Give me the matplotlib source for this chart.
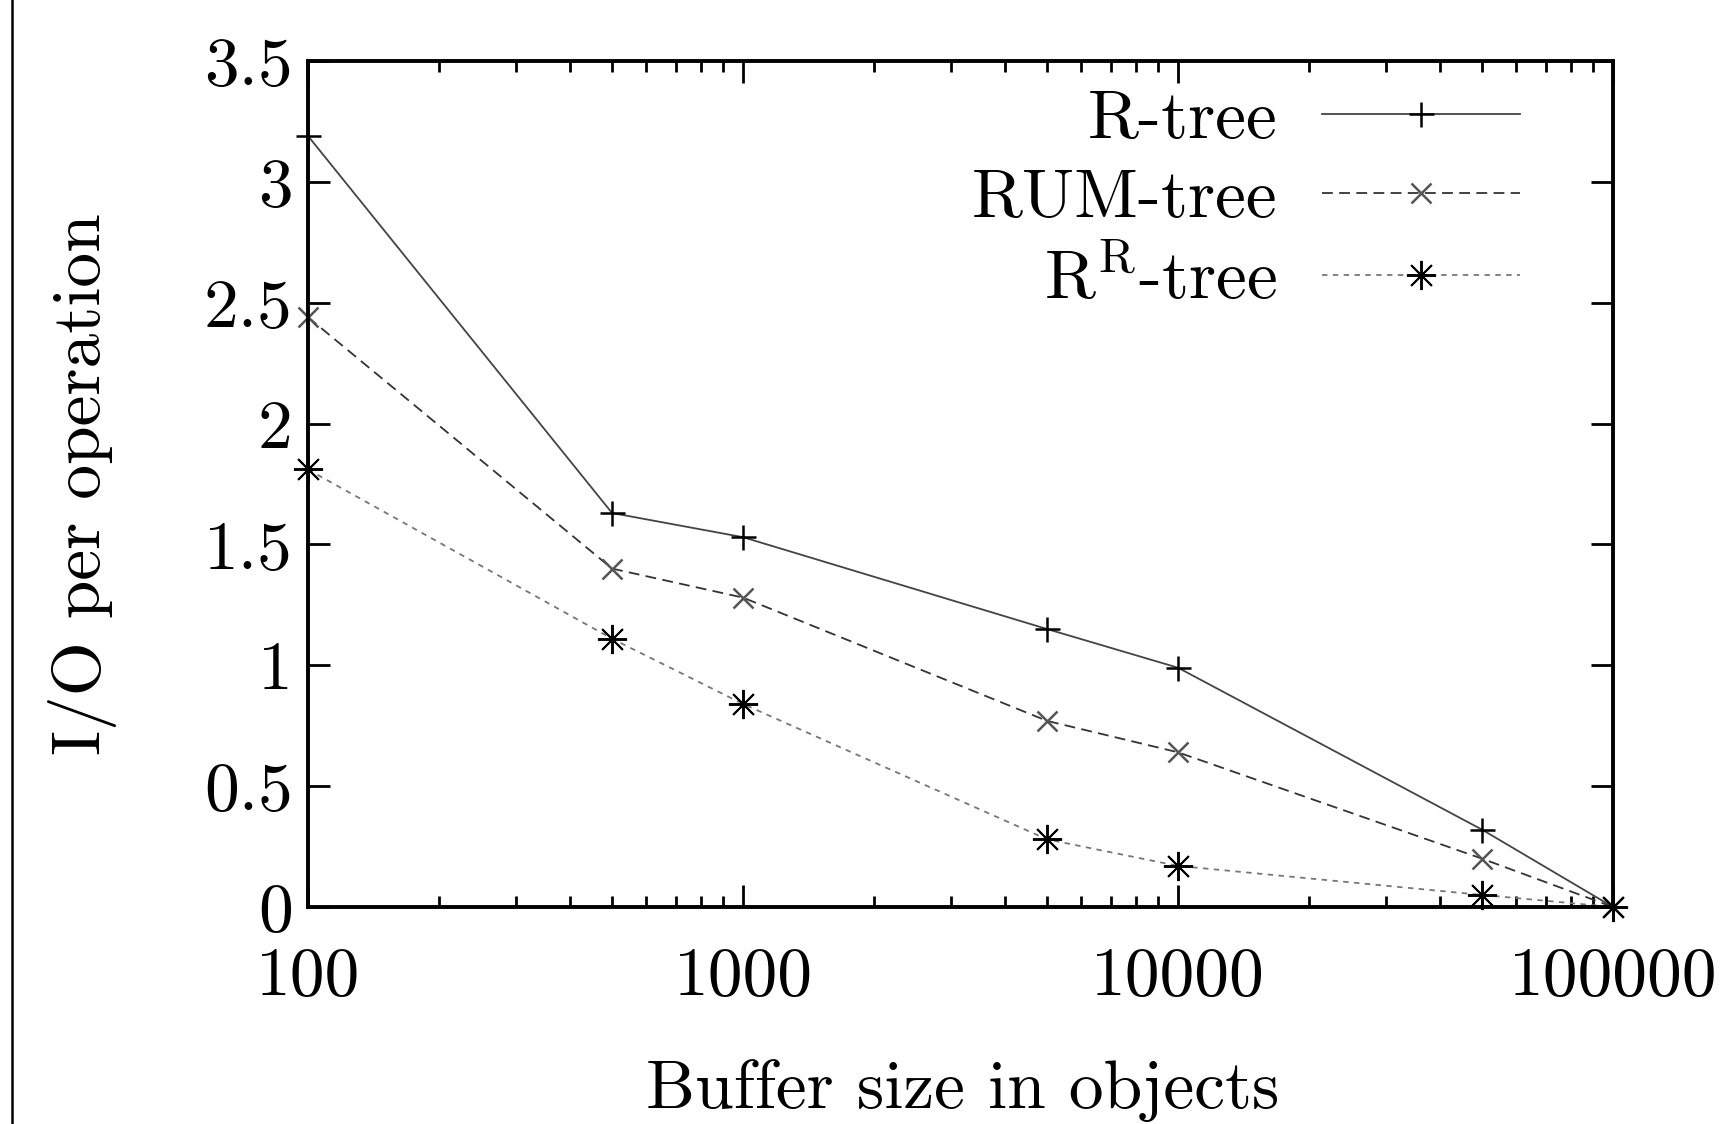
import matplotlib
matplotlib.use("Agg")
import matplotlib.pyplot as plt
from matplotlib.lines import Line2D
from matplotlib.ticker import LogLocator, NullFormatter, FixedLocator, FixedFormatter

plt.rcParams['font.family'] = 'cmr10'
plt.rcParams['mathtext.fontset'] = 'cm'
plt.rcParams['axes.formatter.use_mathtext'] = True

buffer_sizes = [100, 500, 1000, 5000, 10000, 50000, 100000]
rtree = [3.19, 1.63, 1.53, 1.15, 0.99, 0.32, 0.0]
rum_tree = [2.44, 1.40, 1.28, 0.77, 0.64, 0.20, 0.0]
rr_tree = [1.81, 1.11, 0.84, 0.28, 0.17, 0.05, 0.0]

x_ticks = [100, 1000, 10000, 100000]
x_tick_labels = ['100', '1000', '10000', '100000']
y_ticks = [0, 0.5, 1, 1.5, 2, 2.5, 3, 3.5]
y_tick_labels = ['0', '0.5', '1', '1.5', '2', '2.5', '3', '3.5']

FS = 50

fig = plt.figure(figsize=(17.36, 11.24), dpi=100)
ax = fig.add_axes([308 / 1736, 1 - 907 / 1124, 1305 / 1736, 846 / 1124])

ax.plot(buffer_sizes, rtree, color='#444444', lw=1.3, marker='+',
        markersize=18, markeredgewidth=1.8, markeredgecolor='black',
        label='R-tree', clip_on=False)
ax.plot(buffer_sizes, rum_tree, color='#333333', lw=1.3, dashes=(6, 3.5),
        marker='x', markersize=15, markeredgewidth=1.8, markeredgecolor='#555555',
        label='RUM-tree', clip_on=False)
ax.plot(buffer_sizes, rr_tree, color='#777777', lw=1.3, dashes=(3, 3),
        marker=(8, 2, 0), markersize=21, markeredgewidth=1.4, markeredgecolor='black',
        label=r'R$^{\mathrm{R}}$-tree', clip_on=False)

ax.set_xscale('log')
ax.set_xlim(100, 100000)
ax.set_ylim(0, 3.5)
ax.xaxis.set_major_locator(FixedLocator(x_ticks))
ax.xaxis.set_major_formatter(FixedFormatter(x_tick_labels))
ax.xaxis.set_minor_locator(LogLocator(base=10, subs=range(2, 10), numticks=20))
ax.xaxis.set_minor_formatter(NullFormatter())
ax.yaxis.set_major_locator(FixedLocator(y_ticks))
ax.yaxis.set_major_formatter(FixedFormatter(y_tick_labels))

for s in ax.spines.values():
    s.set_linewidth(2.8)
ax.tick_params(which='both', direction='in', top=True, right=True, width=2.0)
ax.tick_params(which='major', length=16)
ax.tick_params(which='minor', length=8)
ax.tick_params(axis='x', which='major', pad=29, labelsize=FS)
ax.tick_params(axis='y', which='major', pad=11, labelsize=FS)

ax.set_xlabel('Buffer size in objects', fontsize=FS)
ax.set_ylabel('I/O per operation', fontsize=FS)
ax.xaxis.set_label_coords(0.502, -0.180)
ax.yaxis.set_label_coords(-0.146, 0.5)

ax.legend(loc='upper right', bbox_to_anchor=(0.929, 0.966), frameon=False,
          markerfirst=False, fontsize=FS, handlelength=2.85, handletextpad=0.65,
          labelspacing=0.25, borderpad=0, borderaxespad=0)

# page border on the left
fig.add_artist(Line2D([12 / 1736, 12 / 1736], [0, 1], color='black', lw=1.8))

fig.savefig('out.png', dpi=100)
